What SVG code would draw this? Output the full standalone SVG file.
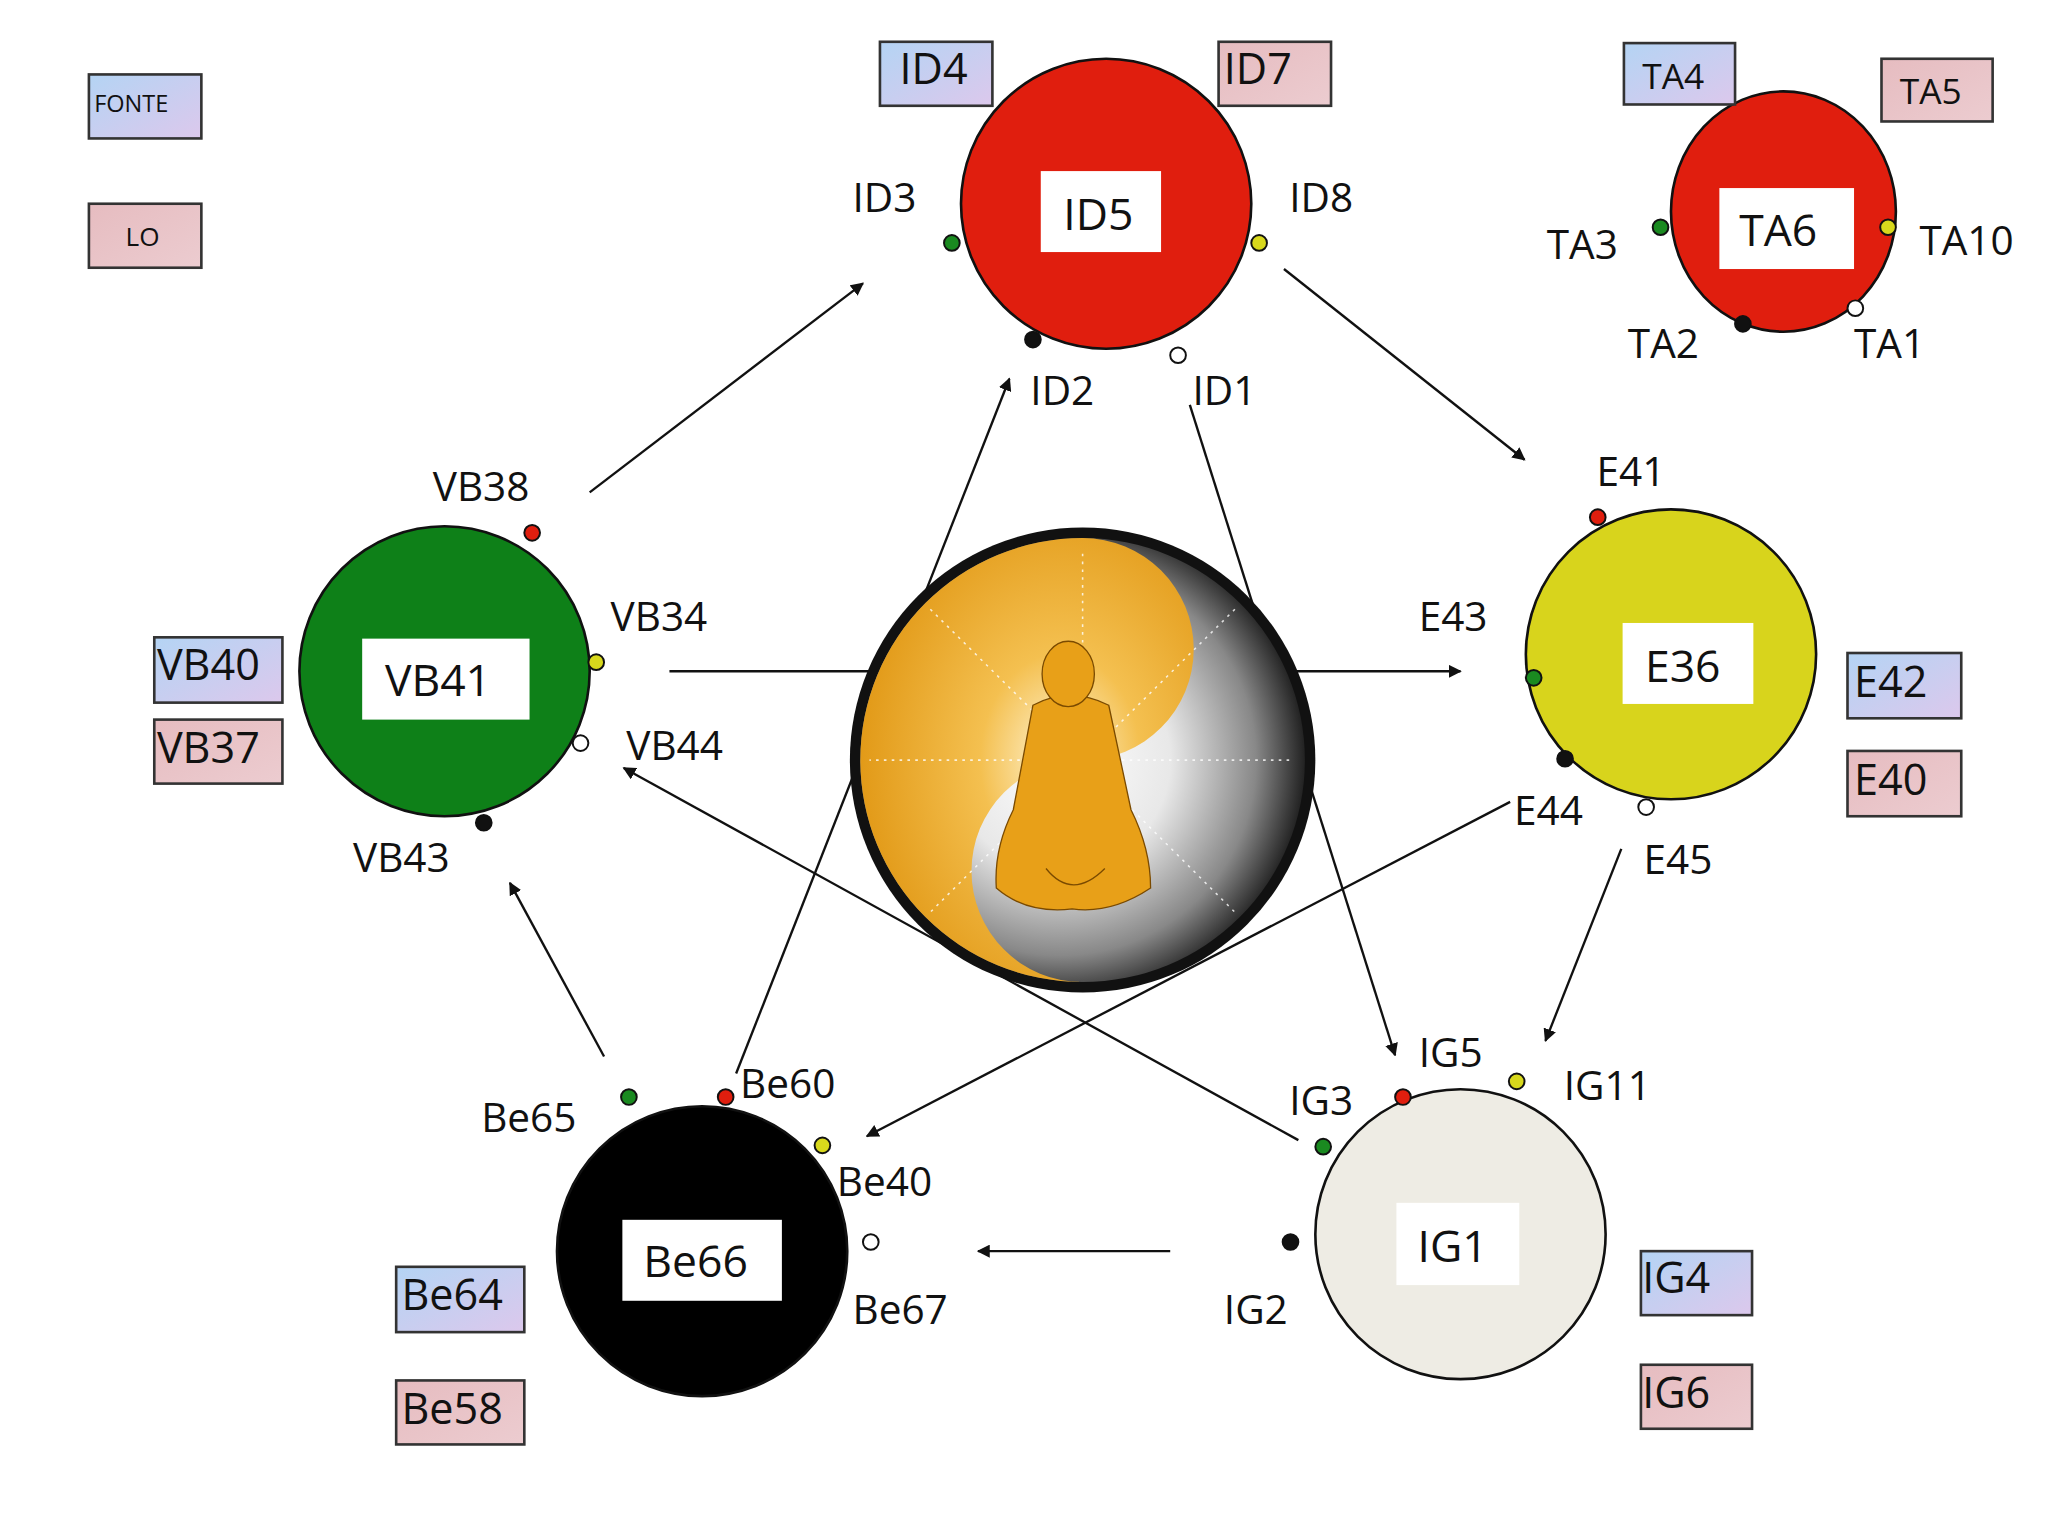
<svg xmlns="http://www.w3.org/2000/svg" width="2048" height="1536" viewBox="0 0 2048 1536">
<style>
text{font-family:"Open Sans","Liberation Sans",sans-serif;fill:#111}
.lb{font-size:31px}
.big{font-size:34px;text-anchor:middle}
.bx{font-size:33px}
.blue{fill:url(#gb);stroke:#333;stroke-width:2}
.pink{fill:url(#gp);stroke:#333;stroke-width:2}
.c{stroke:#111;stroke-width:2}
.w{fill:#fff}
.d{stroke:#111;stroke-width:1.5}
.ar{stroke:#111;stroke-width:1.8;fill:none}
</style>
<defs>
<linearGradient id="gb" x1="0" y1="0" x2="1" y2="1"><stop offset="0" stop-color="#b4d4f4"/><stop offset="1" stop-color="#dcc8ec"/></linearGradient>
<linearGradient id="gp" x1="0" y1="0" x2="1" y2="1"><stop offset="0" stop-color="#e6bcc0"/><stop offset="1" stop-color="#ecccd0"/></linearGradient>
<radialGradient id="gg" cx="0.45" cy="0.5" r="0.55"><stop offset="0" stop-color="#fff"/><stop offset="0.45" stop-color="#e8e8e8"/><stop offset="0.8" stop-color="#888"/><stop offset="1" stop-color="#222"/></radialGradient>
<radialGradient id="go" cx="0.6" cy="0.5" r="0.6"><stop offset="0" stop-color="#fff6d8"/><stop offset="0.4" stop-color="#f4c050"/><stop offset="1" stop-color="#e29a18"/></radialGradient>
<marker id="ah" markerWidth="10" markerHeight="10" refX="9" refY="5" orient="auto" markerUnits="userSpaceOnUse" viewBox="0 0 10 10"><path d="M0,0 L10,5 L0,10 Z" fill="#111"/></marker>
</defs>
<rect width="2048" height="1536" fill="#fff"/>
<g transform="scale(1.3075,1.306)">
<g id="connectors">
<line class="ar" x1="451" y1="377" x2="660" y2="217" marker-end="url(#ah)"/>
<line class="ar" x1="982" y1="206" x2="1166" y2="352" marker-end="url(#ah)"/>
<line class="ar" x1="512" y1="514" x2="670" y2="514"/>
<line class="ar" x1="985" y1="514" x2="1117" y2="514" marker-end="url(#ah)"/>
<line class="ar" x1="1240" y1="650" x2="1182" y2="797" marker-end="url(#ah)"/>
<line class="ar" x1="895" y1="958" x2="748" y2="958" marker-end="url(#ah)"/>
<line class="ar" x1="462" y1="809" x2="390" y2="676" marker-end="url(#ah)"/>
<line class="ar" x1="1155" y1="614" x2="663" y2="870" marker-end="url(#ah)"/>
<line class="ar" x1="993" y1="873" x2="477" y2="588" marker-end="url(#ah)"/>
<line class="ar" x1="563" y1="822" x2="772" y2="290" marker-end="url(#ah)"/>
<line class="ar" x1="910" y1="310" x2="1067" y2="808" marker-end="url(#ah)"/>
</g>
<g id="center">
<ellipse cx="828" cy="582" rx="178" ry="178" fill="#111"/>
<circle cx="828" cy="582" r="170" fill="url(#gg)"/>
<path d="M828,412 A170,170 0 0 0 828,752 A85,85 0 0 1 828,582 A85,85 0 0 0 828,412 Z" fill="url(#go)"/>
<g stroke="#fff" stroke-width="1.2" stroke-dasharray="2,4" opacity="0.8">
<line x1="828" y1="582" x2="828" y2="420"/><line x1="828" y1="582" x2="665" y2="582"/><line x1="828" y1="582" x2="990" y2="582"/>
<line x1="828" y1="582" x2="710" y2="465"/><line x1="828" y1="582" x2="946" y2="465"/><line x1="828" y1="582" x2="710" y2="700"/><line x1="828" y1="582" x2="946" y2="700"/>
</g>
<g fill="#e8a018" stroke="#7a4a00" stroke-width="1">
<path d="M790,540 Q818,525 848,540 L865,620 Q880,650 880,680 Q850,700 820,696 Q785,700 762,680 Q760,650 775,620 Z"/>
<ellipse cx="817" cy="516" rx="20" ry="25"/>
<path d="M800,665 Q820,690 845,665" fill="none"/>
</g>
</g>
<g id="legend">
<rect class="blue" x="68" y="57" width="86" height="49"/><text x="72" y="86" style="font-size:18px">FONTE</text>
<rect class="pink" x="68" y="156" width="86" height="49"/><text x="96" y="188" style="font-size:20px">LO</text>
</g>
<g id="ID">
<circle class="c" cx="846" cy="156" r="111" fill="#e01e0e"/>
<rect class="w" x="796" y="131" width="92" height="62"/><text class="big" x="840" y="176">ID5</text>
<rect class="blue" x="673" y="32" width="86" height="49"/><text class="bx" x="688" y="64">ID4</text>
<rect class="pink" x="932" y="32" width="86" height="49"/><text class="bx" x="936" y="64">ID7</text>
<text class="lb" x="652" y="162">ID3</text><text class="lb" x="986" y="162">ID8</text>
<text class="lb" x="788" y="310">ID2</text><text class="lb" x="912" y="310">ID1</text>
<circle class="d" cx="728" cy="186" r="6" fill="#1a8a20"/><circle class="d" cx="963" cy="186" r="6" fill="#d8d81c"/>
<circle class="d" cx="790" cy="260" r="6" fill="#111"/><circle class="d" cx="901" cy="272" r="6" fill="#fff"/>
</g>
<g id="TA">
<ellipse class="c" cx="1364" cy="162" rx="86" ry="92" fill="#e01e0e"/>
<rect class="w" x="1315" y="144" width="103" height="62"/><text class="big" x="1360" y="188">TA6</text>
<rect class="blue" x="1242" y="33" width="85" height="47"/><text x="1256" y="68" style="font-size:27px">TA4</text>
<rect class="pink" x="1439" y="45" width="85" height="48"/><text x="1453" y="80" style="font-size:27px">TA5</text>
<text class="lb" x="1183" y="198">TA3</text><text class="lb" x="1468" y="195">TA10</text>
<text class="lb" x="1245" y="274">TA2</text><text class="lb" x="1418" y="274">TA1</text>
<circle class="d" cx="1270" cy="174" r="6" fill="#1a8a20"/><circle class="d" cx="1444" cy="174" r="6" fill="#d8d81c"/>
<circle class="d" cx="1333" cy="248" r="6" fill="#111"/><circle class="d" cx="1419" cy="236" r="6" fill="#fff"/>
</g>
<g id="E">
<circle class="c" cx="1278" cy="501" r="111" fill="#d8d41c"/>
<rect class="w" x="1241" y="477" width="100" height="62"/><text class="big" x="1287" y="522">E36</text>
<rect class="blue" x="1413" y="500" width="87" height="50"/><text class="bx" x="1418" y="534">E42</text>
<rect class="pink" x="1413" y="575" width="87" height="50"/><text class="bx" x="1418" y="609">E40</text>
<text class="lb" x="1221" y="372">E41</text><text class="lb" x="1085" y="483">E43</text>
<text class="lb" x="1158" y="632">E44</text><text class="lb" x="1257" y="669">E45</text>
<circle class="d" cx="1222" cy="396" r="6" fill="#e01e0e"/><circle class="d" cx="1173" cy="519" r="6" fill="#1a8a20"/>
<circle class="d" cx="1197" cy="581" r="6" fill="#111"/><circle class="d" cx="1259" cy="618" r="6" fill="#fff"/>
</g>
<g id="IG">
<circle class="c" cx="1117" cy="945" r="111" fill="#eeece4"/>
<rect class="w" x="1068" y="921" width="94" height="63"/><text class="big" x="1111" y="966">IG1</text>
<rect class="blue" x="1255" y="958" width="85" height="49"/><text class="bx" x="1256" y="990">IG4</text>
<rect class="pink" x="1255" y="1045" width="85" height="49"/><text class="bx" x="1256" y="1078">IG6</text>
<text class="lb" x="1085" y="817">IG5</text><text class="lb" x="1196" y="842">IG11</text>
<text class="lb" x="986" y="854">IG3</text><text class="lb" x="936" y="1014">IG2</text>
<circle class="d" cx="1073" cy="840" r="6" fill="#e01e0e"/><circle class="d" cx="1160" cy="828" r="6" fill="#d8d81c"/>
<circle class="d" cx="1012" cy="878" r="6" fill="#1a8a20"/><circle class="d" cx="987" cy="951" r="6" fill="#111"/>
</g>
<g id="Be">
<circle class="c" cx="537" cy="958" r="111" fill="#000"/>
<rect class="w" x="476" y="934" width="122" height="62"/><text class="big" x="532" y="978">Be66</text>
<rect class="blue" x="303" y="970" width="98" height="50"/><text class="bx" x="307" y="1003">Be64</text>
<rect class="pink" x="303" y="1057" width="98" height="49"/><text class="bx" x="307" y="1090">Be58</text>
<text class="lb" x="368" y="867">Be65</text><text class="lb" x="566" y="841">Be60</text>
<text class="lb" x="640" y="916">Be40</text><text class="lb" x="652" y="1014">Be67</text>
<circle class="d" cx="481" cy="840" r="6" fill="#1a8a20"/><circle class="d" cx="555" cy="840" r="6" fill="#e01e0e"/>
<circle class="d" cx="629" cy="877" r="6" fill="#d8d81c"/><circle class="d" cx="666" cy="951" r="6" fill="#fff"/>
</g>
<g id="VB">
<circle class="c" cx="340" cy="514" r="111" fill="#0e8018"/>
<rect class="w" x="277" y="489" width="128" height="62"/><text class="big" x="335" y="533">VB41</text>
<rect class="blue" x="118" y="488" width="98" height="50"/><text class="bx" x="120" y="521">VB40</text>
<rect class="pink" x="118" y="551" width="98" height="49"/><text class="bx" x="120" y="584">VB37</text>
<text class="lb" x="331" y="384">VB38</text><text class="lb" x="467" y="483">VB34</text>
<text class="lb" x="479" y="582">VB44</text><text class="lb" x="270" y="668">VB43</text>
<circle class="d" cx="407" cy="408" r="6" fill="#e01e0e"/><circle class="d" cx="456" cy="507" r="6" fill="#d8d81c"/>
<circle class="d" cx="444" cy="569" r="6" fill="#fff"/><circle class="d" cx="370" cy="630" r="6" fill="#111"/>
</g>
</g>
</svg>
